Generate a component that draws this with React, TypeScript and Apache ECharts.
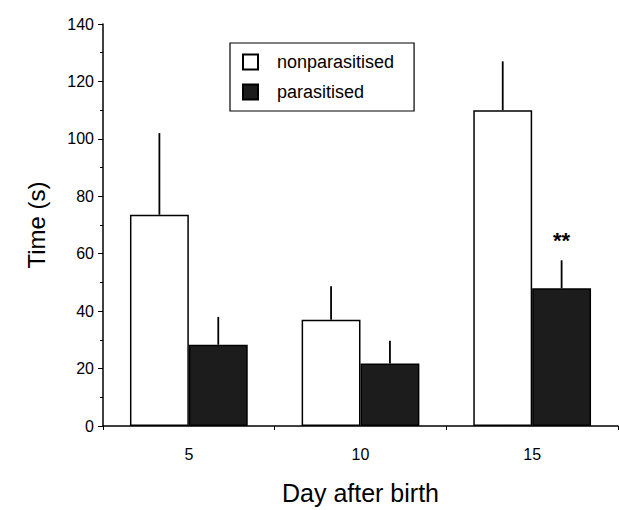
import React, { useEffect, useRef } from "react";
import * as echarts from "echarts";

const days = ["5", "10", "15"];
const nonparasitised = [73.6, 37, 110];
const nonparasitisedErrTop = [102, 48.7, 127];
const parasitised = [28.3, 21.8, 48];
const parasitisedErrTop = [38, 29.7, 57.7];
const parasitisedSig = ["", "", "**"];
const yTicks = { min: 0, max: 140, interval: 20 };

const BAR_FRAC = 0.343;
const FONT = "Liberation Sans, Arial, sans-serif";

export default function App() {
  const ref = useRef<HTMLDivElement>(null);
  useEffect(() => {
    if (!ref.current) return;
    const chart = echarts.init(ref.current, null, { renderer: "svg" });

    const errRows: any[] = [];
    const errSig: string[] = [];
    days.forEach((_, i) => {
      errRows.push([i, nonparasitised[i], nonparasitisedErrTop[i], 0]);
      errSig.push("");
      errRows.push([i, parasitised[i], parasitisedErrTop[i], 1]);
      errSig.push(parasitisedSig[i]);
    });

    chart.setOption({
      animation: false,
      backgroundColor: "#ffffff",
      grid: { left: 103, right: 1, top: 24, bottom: 78 },
      legend: {
        orient: "vertical",
        left: 230,
        top: 43,
        itemWidth: 15,
        itemHeight: 15,
        itemGap: 12,
        borderColor: "#000",
        borderWidth: 1.2,
        padding: [10, 20, 10, 12],
        textStyle: { fontFamily: FONT, fontSize: 18, color: "#000", padding: [0, 0, 0, 14] },
        data: [
          { name: "nonparasitised", icon: "rect" },
          { name: "parasitised", icon: "rect" },
        ],
      },
      xAxis: {
        type: "category",
        data: days,
        name: "Day after birth",
        nameLocation: "middle",
        nameGap: 54,
        nameTextStyle: { fontFamily: FONT, fontSize: 25, color: "#000" },
        axisLine: { lineStyle: { color: "#000", width: 1.5 } },
        axisTick: { show: true, length: 4, alignWithLabel: false, lineStyle: { color: "#000" } },
        axisLabel: { fontFamily: FONT, fontSize: 16, color: "#000", margin: 20 },
      },
      yAxis: {
        type: "value",
        min: yTicks.min,
        max: yTicks.max,
        interval: yTicks.interval,
        name: "Time (s)",
        nameLocation: "middle",
        nameGap: 55,
        nameTextStyle: { fontFamily: FONT, fontSize: 24, color: "#000" },
        axisLine: { show: true, lineStyle: { color: "#000", width: 1.5 } },
        axisTick: { show: true, length: 5, lineStyle: { color: "#000" } },
        minorTick: { show: true, splitNumber: 2, length: 3, lineStyle: { color: "#000" } },
        splitLine: { show: false },
        axisLabel: { fontFamily: FONT, fontSize: 16, color: "#000", margin: 9 },
      },
      series: [
        {
          name: "nonparasitised",
          type: "bar",
          data: nonparasitised,
          barWidth: BAR_FRAC * 100 + "%",
          barGap: "0%",
          itemStyle: { color: "#ffffff", borderColor: "#000", borderWidth: 1.5 },
        },
        {
          name: "parasitised",
          type: "bar",
          data: parasitised,
          barWidth: BAR_FRAC * 100 + "%",
          barGap: "0%",
          itemStyle: { color: "#1c1c1c", borderColor: "#000", borderWidth: 1.5 },
        },
        {
          type: "custom",
          z: 10,
          silent: true,
          data: errRows,
          encode: { x: 0, y: 2 },
          renderItem: (params: any, api: any) => {
            const i = api.value(0);
            const v = api.value(1);
            const top = api.value(2);
            const s = api.value(3);
            const band = api.size([1, 0])[0];
            const bw = band * BAR_FRAC;
            const base = api.coord([i, v]);
            const t = api.coord([i, top]);
            const x = base[0] + (s === 0 ? -bw / 2 : bw / 2);
            const children: any[] = [
              {
                type: "line",
                shape: { x1: x, y1: base[1], x2: x, y2: t[1] },
                style: { stroke: "#000", lineWidth: 1.8 },
              },
            ];
            const sig = errSig[params.dataIndex];
            if (sig) {
              children.push({
                type: "text",
                style: {
                  text: sig,
                  x: x,
                  y: t[1] - 9,
                  textAlign: "center",
                  textVerticalAlign: "bottom",
                  fontFamily: FONT,
                  fontSize: 22,
                  fontWeight: "bold",
                  fill: "#000",
                },
              });
            }
            return { type: "group", children };
          },
        },
      ],
    });
    return () => chart.dispose();
  }, []);
  return <div ref={ref} style={{ width: 619, height: 510, position: "absolute", left: 0, top: 0 }} />;
}
